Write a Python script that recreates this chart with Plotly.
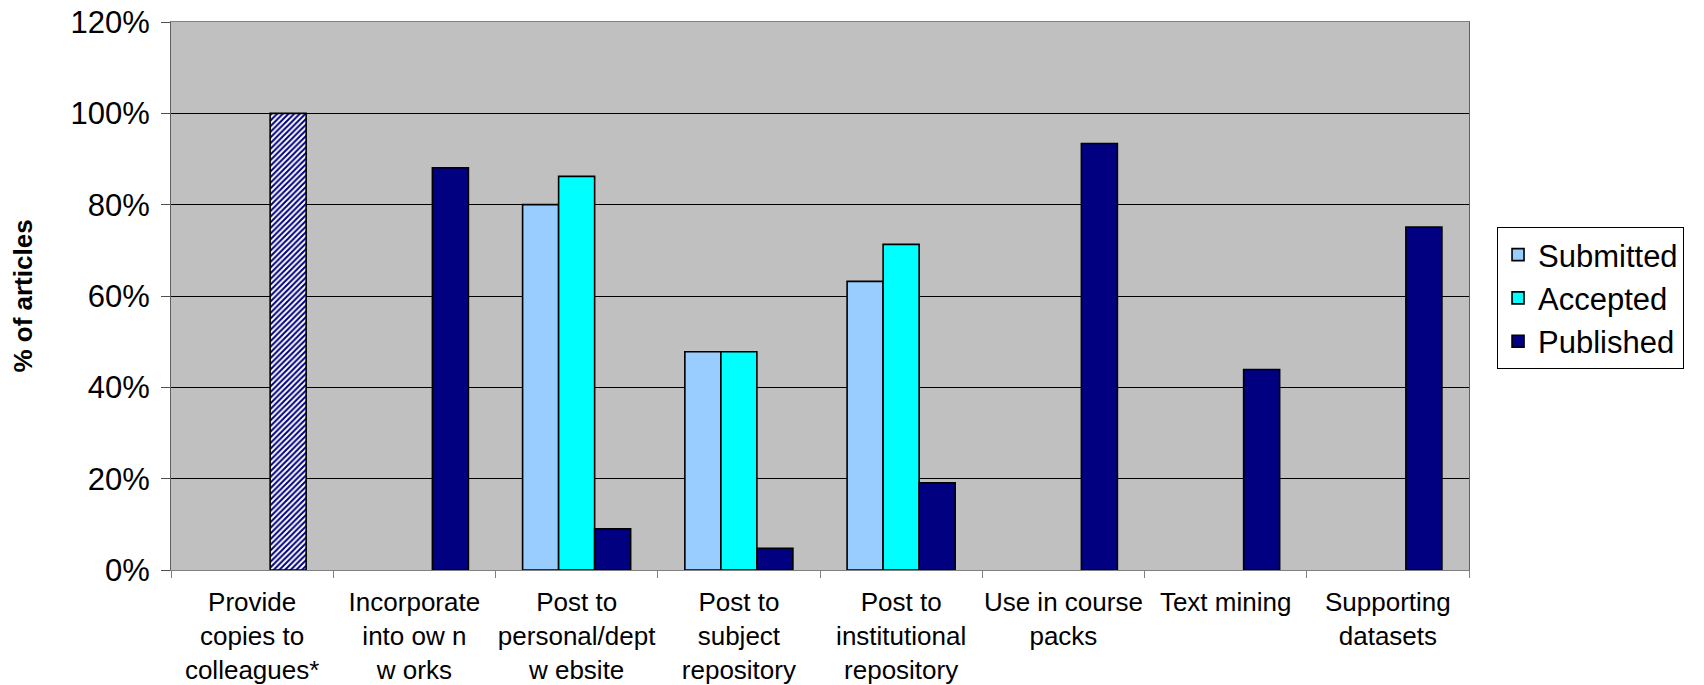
import plotly.graph_objects as go

categories = [
    "Provide<br>copies to<br>colleagues*",
    "Incorporate<br>into ow n<br>w orks",
    "Post to<br>personal/dept<br>w ebsite",
    "Post to<br>subject<br>repository",
    "Post to<br>institutional<br>repository",
    "Use in course<br>packs",
    "Text mining",
    "Supporting<br>datasets",
]
submitted = [None, None, 80, 47.8, 63.2, None, None, None]
accepted = [None, None, 86.2, 47.8, 71.3, None, None, None]
published = [100, 88.1, 9.0, 4.75, 19.1, 93.4, 43.9, 75.1]
hatched = [True, False, False, False, False, False, False, False]
y_ticks = [0, 20, 40, 60, 80, 100, 120]

FONT = "Liberation Sans, Arial, sans-serif"
outline = dict(color="#000000", width=1.6)

fig = go.Figure()
fig.add_trace(go.Bar(name="Submitted", x=categories, y=submitted, offsetgroup="sub",
                     marker=dict(color="#99CCFF", line=outline)))
fig.add_trace(go.Bar(name="Accepted", x=categories, y=accepted, offsetgroup="acc",
                     marker=dict(color="#00FFFF", line=outline)))
fig.add_trace(go.Bar(name="Published", x=categories,
                     y=[None if h else v for v, h in zip(published, hatched)],
                     offsetgroup="pub",
                     marker=dict(color="#000080", line=outline)))
fig.add_trace(go.Bar(name="Published", x=[c for c, h in zip(categories, hatched) if h],
                     y=[v for v, h in zip(published, hatched) if h],
                     offsetgroup="pub", showlegend=False,
                     marker=dict(color="#FFFFFF", line=outline,
                                 pattern=dict(shape="/", fgcolor="#000080", bgcolor="#FFFFFF",
                                              size=4, solidity=0.5, fillmode="replace"))))

fig.update_layout(
    width=1704, height=685,
    margin=dict(l=171, r=235, t=22, b=115),
    paper_bgcolor="#FFFFFF",
    plot_bgcolor="#C0C0C0",
    barmode="group",
    bargap=0.334,
    bargroupgap=0,
    font=dict(family=FONT, color="#000000"),
    showlegend=True,
    legend=dict(
        x=1.0216, xanchor="left", y=0.626, yanchor="top",
        bgcolor="#FFFFFF", bordercolor="#000000", borderwidth=1,
        font=dict(family=FONT, size=31, color="#000000"),
        traceorder="normal",
    ),
)

fig.update_xaxes(
    type="category",
    tickson="boundaries",
    tickangle=0,
    automargin=False,
    ticks="outside", ticklen=7, tickcolor="#808080", tickwidth=1,
    showline=True, linecolor="#808080", linewidth=1, mirror=True,
    showgrid=False,
    tickfont=dict(family=FONT, size=26, color="#000000"),
    ticklabelstandoff=9,
)
fig.update_yaxes(
    range=[0, 120],
    automargin=False,
    tickvals=y_ticks, ticktext=[f"{v}%" for v in y_ticks],
    ticks="outside", ticklen=9, tickcolor="#505050", tickwidth=1,
    showline=True, linecolor="#606060", linewidth=1, mirror=True,
    showgrid=True, gridcolor="#000000", gridwidth=1,
    zeroline=False,
    tickfont=dict(family=FONT, size=31, color="#000000"),
    ticklabelstandoff=5,
    title=dict(text="<b>% of articles</b>", font=dict(family=FONT, size=26, color="#000000"),
               standoff=30),
)

fig.write_html("out.html",
               config={"displayModeBar": False},
               post_script="document.body.style.margin='0';document.body.style.overflow='hidden';")
